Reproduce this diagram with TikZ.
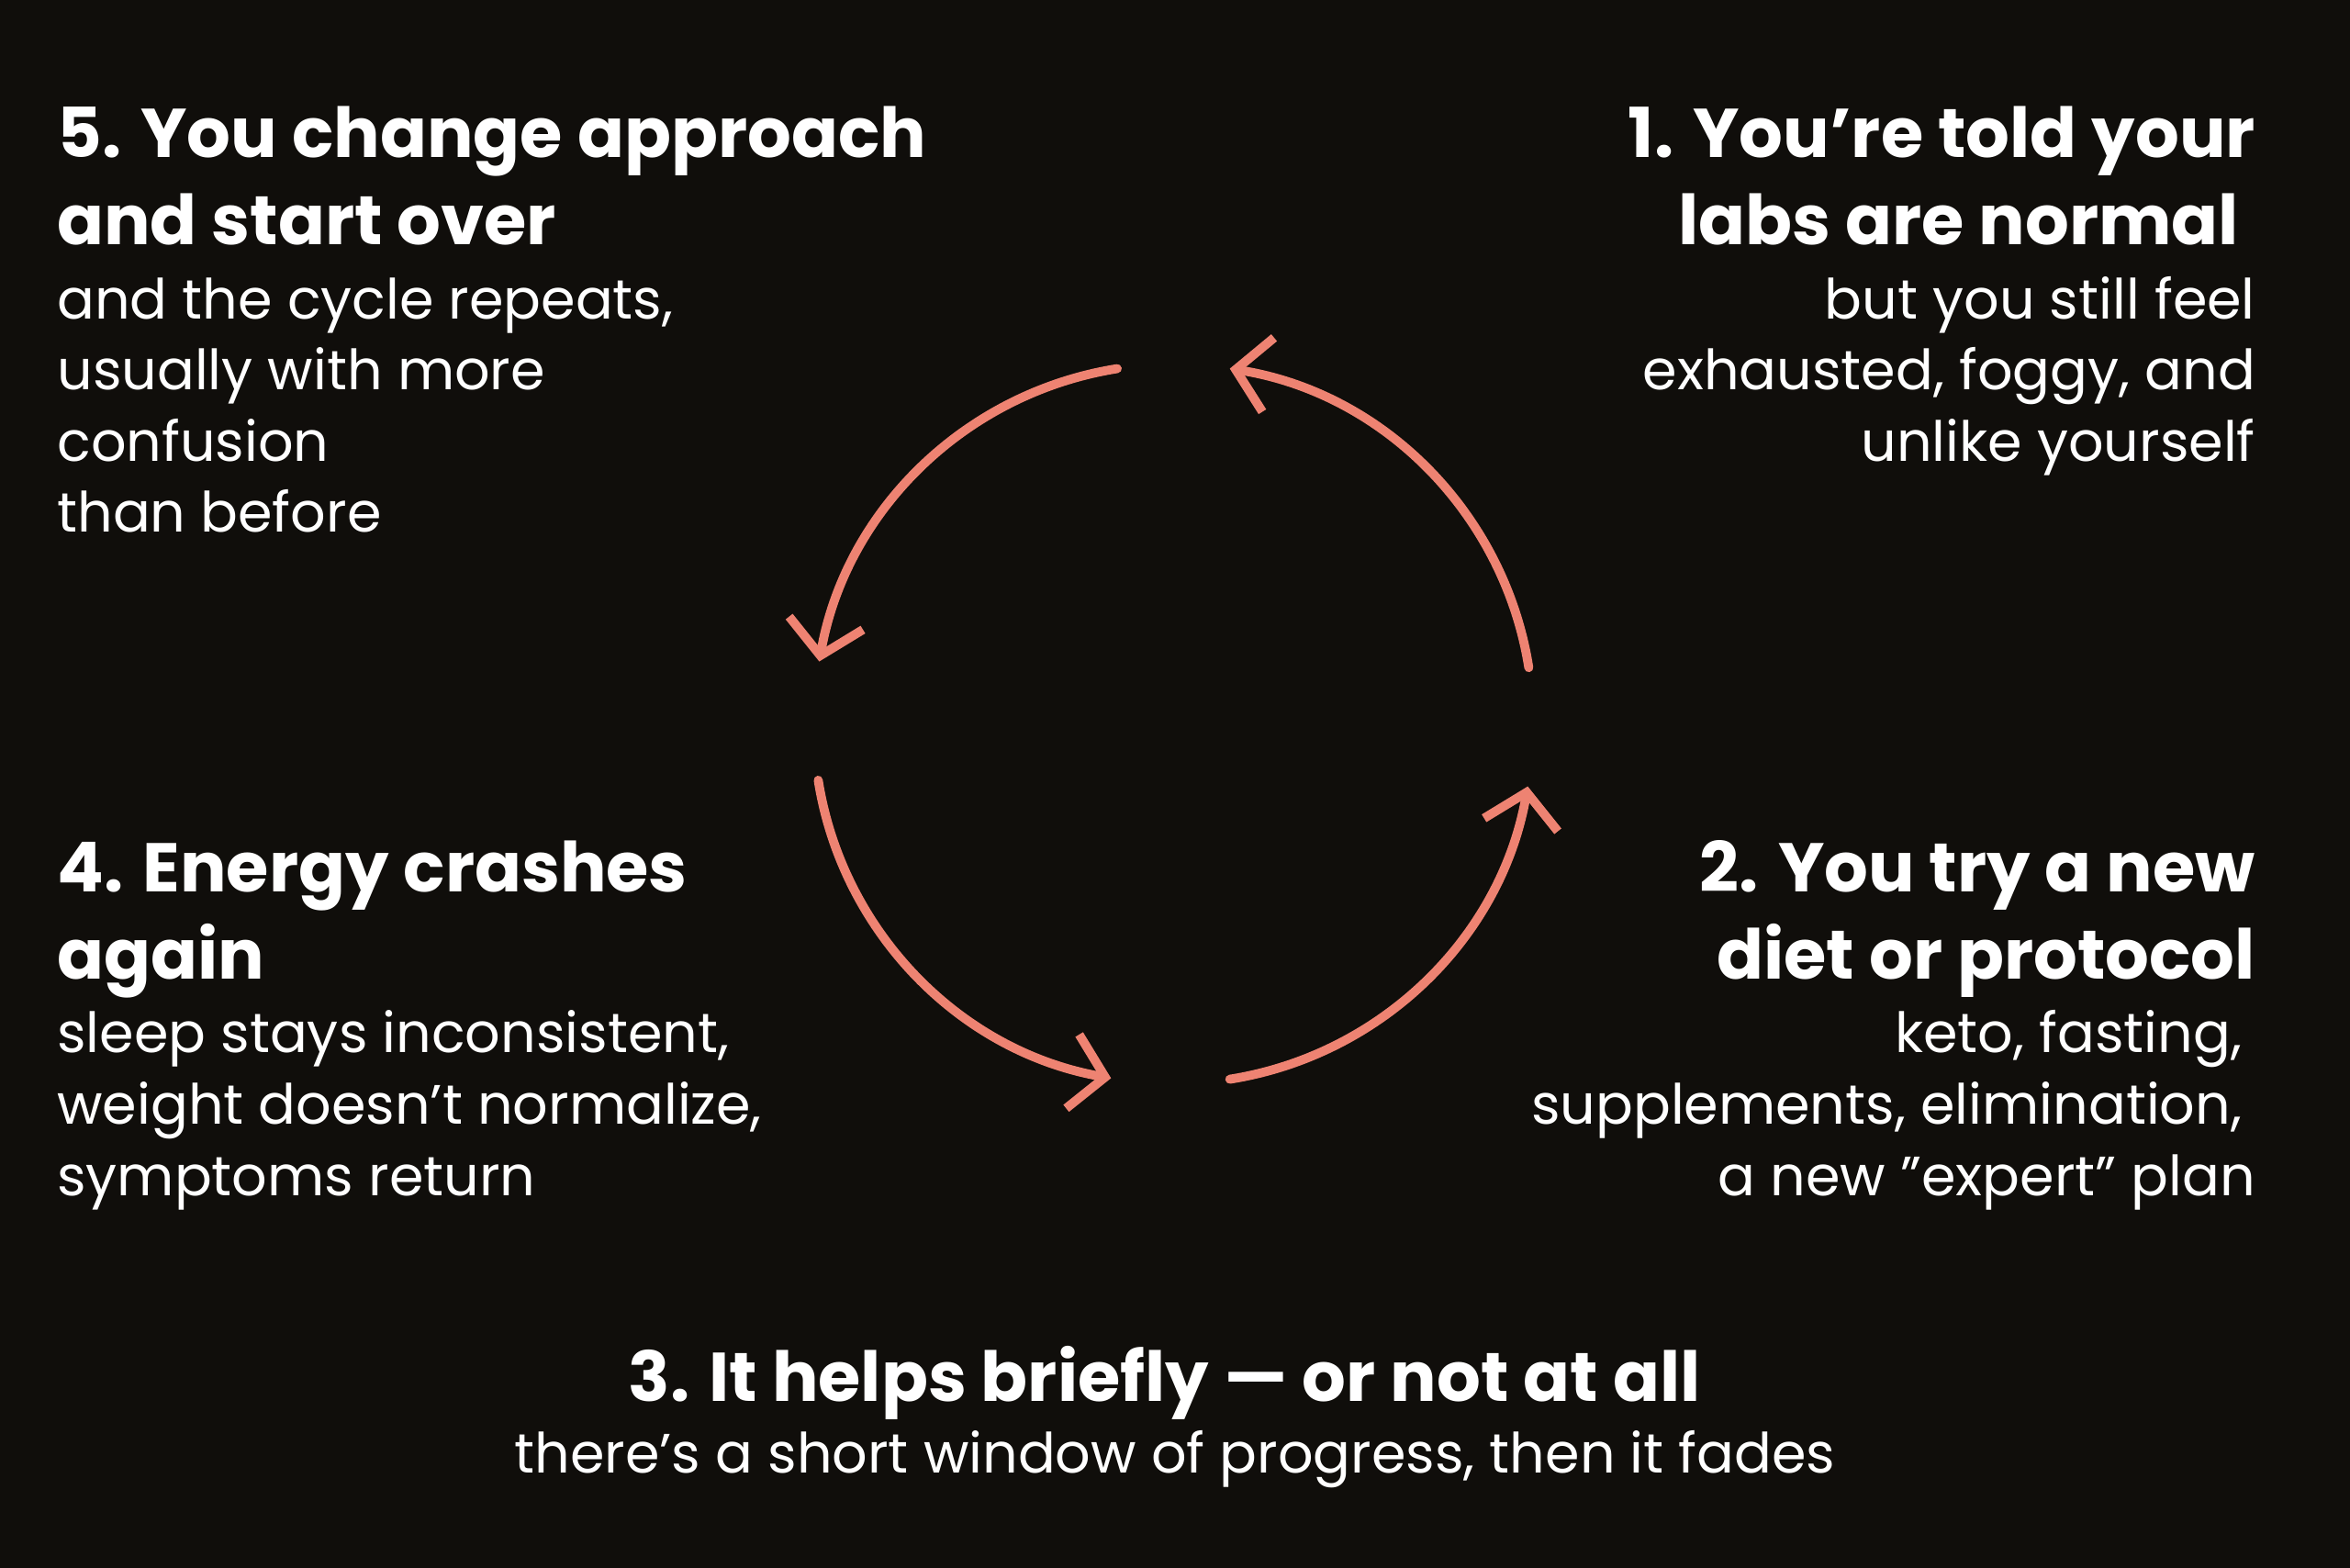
\documentclass[tikz,border=0pt]{standalone}
\usepackage{fontspec}
\setmainfont{Poppins}
\usetikzlibrary{arrows.meta}
\definecolor{bg}{HTML}{100E0B}
\definecolor{arc}{HTML}{EE8372}
\begin{document}
\begin{tikzpicture}[x=1pt,y=-1pt,
  H/.style={inner sep=0,text=white,font=\fontsize{46}{50}\selectfont\bfseries},
  B/.style={inner sep=0,text=white,font=\fontsize{37}{44}\selectfont},
  A/.style={draw=arc,line width=6pt,line cap=round,-{Straight Barb[length=22pt,width=50pt,line width=6pt]}}]
\fill[bg] (0,0) rectangle (1568,1046);
\useasboundingbox (0,0) rectangle (1568,1046);
% block 5
\node[H,anchor=base west] (h5a) at (38,105) {5. You change approach};
\node[H,anchor=base west] (h5b) at (38,163) {and start over};
\node[B,anchor=base west] (b5a) at (38,213) {and the cycle repeats,};
\node[B,anchor=base west] (b5b) at (38,260) {usually with more};
\node[B,anchor=base west] (b5c) at (38,308) {confusion};
\node[B,anchor=base west] (b5d) at (38,355) {than before};
% block 1
\node[H,anchor=base east] (h1a) at (1505,105) {1. You're told your};
\node[H,anchor=base east] (h1b) at (1494,163) {labs are normal};
\node[B,anchor=base east] (b1a) at (1505,213) {but you still feel};
\node[B,anchor=base east] (b1b) at (1505,260) {exhausted, foggy, and};
\node[B,anchor=base east] (b1c) at (1505,308) {unlike yourself};
% block 2
\node[H,anchor=base east] (h2a) at (1505,595) {2. You try a new};
\node[H,anchor=base east] (h2b) at (1505,653) {diet or protocol};
\node[B,anchor=base east] (b2a) at (1496,702) {keto, fasting,};
\node[B,anchor=base east] (b2b) at (1496,750) {supplements, elimination,};
\node[B,anchor=base east] (b2c) at (1505,798) {a new "expert" plan};
% block 4
\node[H,anchor=base west] (h4a) at (38,595) {4. Energy crashes};
\node[H,anchor=base west] (h4b) at (38,653) {again};
\node[B,anchor=base west] (b4a) at (38,702) {sleep stays inconsistent,};
\node[B,anchor=base west] (b4b) at (38,750) {weight doesn't normalize,};
\node[B,anchor=base west] (b4c) at (38,798) {symptoms return};
% block 3
\node[H,anchor=base] (h3) at (777,935) {3. It helps briefly — or not at all};
\node[B,anchor=base] (b3) at (784,983) {there's a short window of progress, then it fades};
% cycle
\coordinate (c) at (783,483);
\draw[A] (c) ++(81:240) arc[start angle=81,end angle=10,radius=240];
\draw[A] (c) ++(-9:240) arc[start angle=-9,end angle=-81,radius=240];
\draw[A] (c) ++(-99:240) arc[start angle=-99,end angle=-170,radius=240];
\draw[A] (c) ++(171:240) arc[start angle=171,end angle=100,radius=240];
\end{tikzpicture}
\end{document}
